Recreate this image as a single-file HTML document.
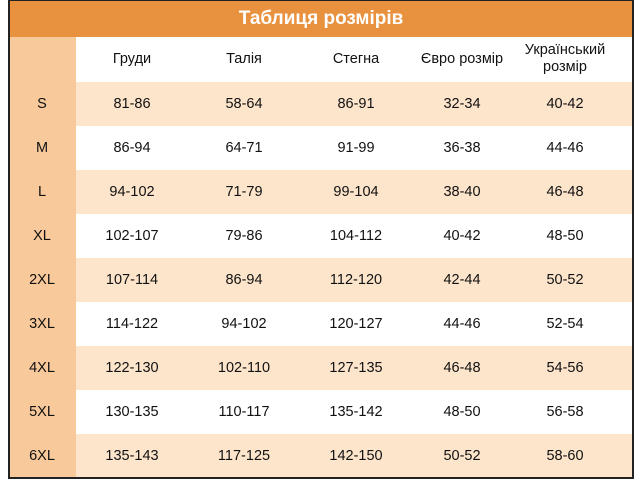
<!DOCTYPE html>
<html><head><meta charset="utf-8"><style>
body{margin:0;width:640px;height:480px;background:#fff;font-family:"Liberation Sans","DejaVu Sans",sans-serif;position:relative;overflow:hidden}
.box{position:absolute;left:8px;top:0;width:622px;height:476px;border:2px solid #222;border-top-width:1px;overflow:hidden;background:#fff}
.hd{position:absolute;left:0;top:0;width:100%;height:36px;background:#e8913e;color:#fff;font-weight:bold;font-size:19px;text-align:center;line-height:36px}
.lc{position:absolute;left:0;top:36px;width:66px;height:450px;background:#f8c99b}
.row{position:absolute;left:0;width:100%;height:44px;font-size:14.5px;color:#111}
.row.p{background:linear-gradient(to right,#f8c99b 66px,#fde5cc 66px)}
.c{position:absolute;top:0;height:44px;line-height:44px;text-align:center;transform:translateX(-50%);white-space:nowrap}
.h .c{line-height:17px;display:flex;align-items:center;justify-content:center}
</style></head><body>
<div class="box">
<div class="hd">Таблиця розмірів</div>
<div class="lc"></div>
<div class="row h" style="top:36px"><div class="c" style="left:122px">Груди</div><div class="c" style="left:234px">Талія</div><div class="c" style="left:346px">Стегна</div><div class="c" style="left:452px">Євро розмір</div><div class="c" style="left:555px">Український<br>розмір</div></div>
<div id="rows"></div>
</div>
<script>
var d=[["S","81-86","58-64","86-91","32-34","40-42"],["M","86-94","64-71","91-99","36-38","44-46"],["L","94-102","71-79","99-104","38-40","46-48"],["XL","102-107","79-86","104-112","40-42","48-50"],["2XL","107-114","86-94","112-120","42-44","50-52"],["3XL","114-122","94-102","120-127","44-46","52-54"],["4XL","122-130","102-110","127-135","46-48","54-56"],["5XL","130-135","110-117","135-142","48-50","56-58"],["6XL","135-143","117-125","142-150","50-52","58-60"]];
var x=[32,122,234,346,452,555],h="";
d.forEach(function(r,i){h+='<div class="row'+(i%2==0?' p':'')+'" style="top:'+(81+i*44)+'px">';r.forEach(function(v,j){h+='<div class="c" style="left:'+x[j]+'px">'+v+'</div>'});h+='</div>'});
document.getElementById('rows').outerHTML=h;
</script>
</body></html>
